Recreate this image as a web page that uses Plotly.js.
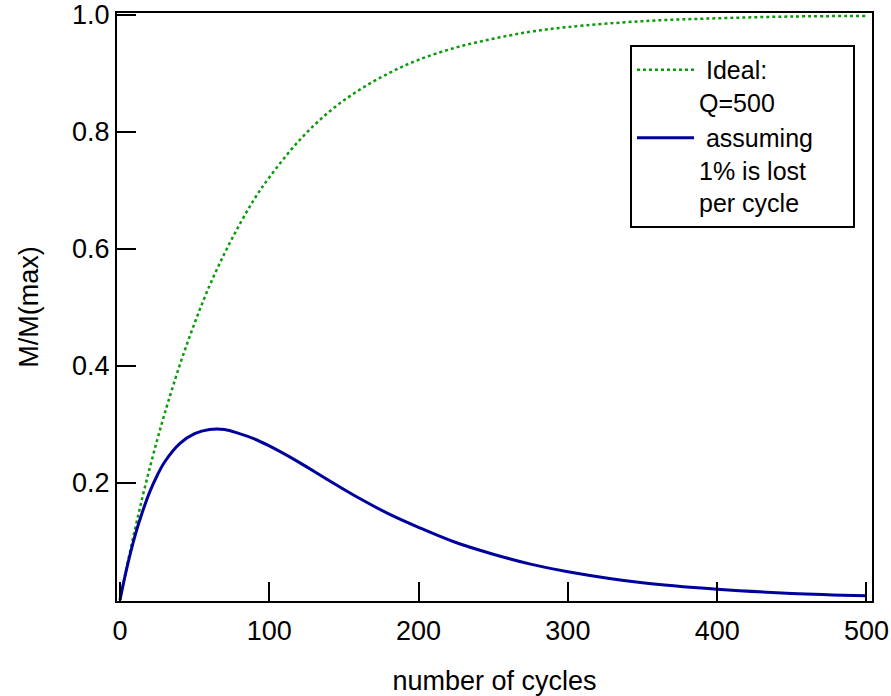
<!DOCTYPE html>
<html>
<head>
<meta charset="utf-8">
<script src="https://cdn.plot.ly/plotly-3.0.1.min.js"></script>
<style>html,body{margin:0;padding:0;background:#fff;}#chart{width:891px;height:696px;}</style>
</head>
<body>
<div id="chart"></div>
<script>
// number of cycles
const cycles = [0,5,10,15,20,25,30,40,50,60,70,80,90,100,120,140,160,180,200,225,250,275,300,350,400,450,500];
// Ideal: Q=500
const ideal = [0,0.062,0.120,0.175,0.226,0.274,0.319,0.401,0.473,0.537,0.592,0.641,0.685,0.722,0.785,0.834,0.871,0.900,0.923,0.944,0.959,0.971,0.979,0.989,0.994,0.997,0.998];
// assuming 1% is lost per cycle
const lossy = [0,0.059,0.109,0.150,0.185,0.213,0.236,0.267,0.284,0.291,0.291,0.284,0.275,0.263,0.235,0.204,0.174,0.147,0.124,0.098,0.078,0.061,0.048,0.029,0.018,0.011,0.007];

const xTicks = [0,100,200,300,400,500];
const yTicks = [0.2,0.4,0.6,0.8,1.0];
const yTickText = ['0.2','0.4','0.6','0.8','1.0'];

const FONT = 'Liberation Sans, Arial, Helvetica, sans-serif';

const traces = [
  {x: cycles, y: ideal, mode: 'lines', name: '\u00A0Ideal:<br>Q=500',
   line: {color: '#0a9a0a', width: 2.5, dash: 'dot', shape: 'spline'}},
  {x: cycles, y: lossy, mode: 'lines', name: '\u00A0assuming\u00A0\u00A0\u00A0\u00A0\u00A0<br>1% is lost<br>per cycle',
   line: {color: '#00009c', width: 3, shape: 'spline'}}
];

const layout = {
  width: 891, height: 696,
  margin: {l: 117, r: 19, t: 13, b: 95},
  paper_bgcolor: '#fff', plot_bgcolor: '#fff',
  font: {family: FONT, size: 27, color: '#000'},
  showlegend: true,
  legend: {x: 0.6795, y: 0.9456, xanchor: 'left', yanchor: 'top',
           bordercolor: '#000', borderwidth: 2, bgcolor: '#fff',
           font: {family: FONT, size: 25, color: '#000'},
           valign: 'top', itemwidth: 57, tracegroupgap: 0},
  xaxis: {
    range: [-2, 503.7], tickvals: xTicks, ticktext: xTicks.map(String),
    ticks: 'inside', ticklen: 19, tickwidth: 2, tickcolor: '#000',
    showline: true, linecolor: '#000', linewidth: 2, mirror: true,
    showgrid: false, zeroline: false, ticklabelstandoff: 5,
    tickfont: {family: FONT, size: 27, color: '#000'},
    title: {text: 'number of cycles', font: {family: FONT, size: 27, color: '#000'}, standoff: 26}
  },
  yaxis: {
    range: [-0.002, 1.003], tickvals: yTicks, ticktext: yTickText,
    ticks: 'inside', ticklen: 19, tickwidth: 2, tickcolor: '#000',
    showline: true, linecolor: '#000', linewidth: 2, mirror: true,
    showgrid: false, zeroline: false,
    tickfont: {family: FONT, size: 27, color: '#000'},
    title: {text: 'M/M(max)', font: {family: FONT, size: 27, color: '#000'}, standoff: 26}
  }
};

Plotly.newPlot('chart', traces, layout, {displayModeBar: false, staticPlot: true});
</script>
</body>
</html>
